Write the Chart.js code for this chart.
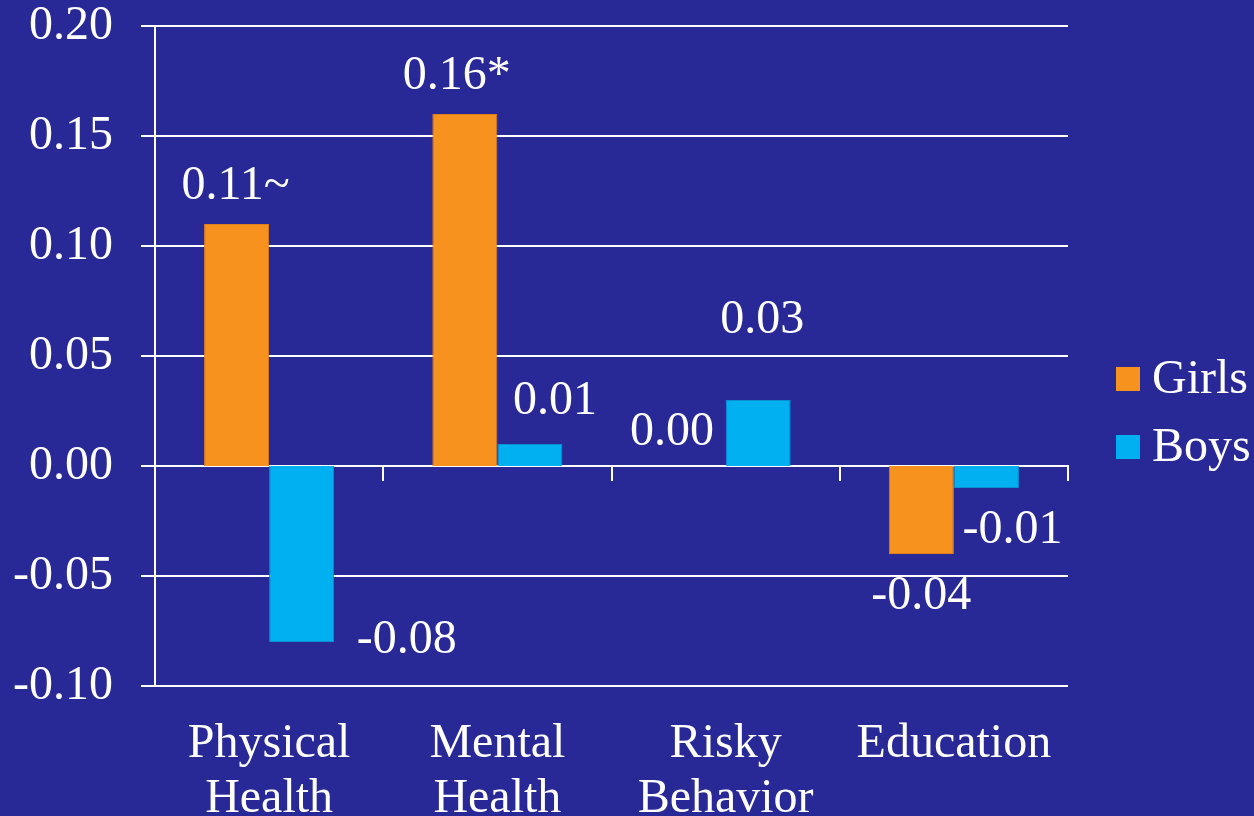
<!DOCTYPE html>
<html>
<head>
<meta charset="utf-8">
<script src="https://cdn.jsdelivr.net/npm/chart.js@4/dist/chart.umd.min.js"></script>
<style>
  html, body { margin: 0; padding: 0; background: #282896; }
  #wrap { width: 1254px; height: 816px; position: relative; }
</style>
</head>
<body>
<div id="wrap"><canvas id="chart"></canvas></div>
<script>
const categories = [["Physical", "Health"], ["Mental", "Health"], ["Risky", "Behavior"], ["Education"]];
const girls = [0.11, 0.16, 0.00, -0.04];
const boys = [-0.08, 0.01, 0.03, -0.01];
const girlsLabels = ["0.11~", "0.16*", "0.00", "-0.04"];
const boysLabels = ["-0.08", "0.01", "0.03", "-0.01"];
const yTicks = { min: -0.10, max: 0.20, step: 0.05 };

// where each value label sits relative to the end of its bar
const girlsOffsets = [[-1, -38], [-8, -38], [-21, -34], [0, 42]];
const boysOffsets = [[105, -2], [25, -43], [4, -80], [26, 42]];

const FONT = "'Liberation Serif', 'Times New Roman', serif";
const SIZE = 48;
const WHITE = "#ffffff";

const valueLabels = {
  id: "valueLabels",
  afterDatasetsDraw(chart) {
    const ctx = chart.ctx;
    ctx.save();
    ctx.font = SIZE + "px " + FONT;
    ctx.fillStyle = WHITE;
    ctx.textAlign = "center";
    ctx.textBaseline = "middle";
    [[girlsLabels, girlsOffsets], [boysLabels, boysOffsets]].forEach(([texts, offs], di) => {
      chart.getDatasetMeta(di).data.forEach((bar, i) => {
        ctx.fillText(texts[i], bar.x + offs[i][0], bar.y + offs[i][1]);
      });
    });
    ctx.restore();
  }
};

const sideLegend = {
  id: "sideLegend",
  afterDraw(chart) {
    const ctx = chart.ctx;
    const area = chart.chartArea;
    ctx.save();
    ctx.font = SIZE + "px " + FONT;
    ctx.textBaseline = "middle";
    ctx.textAlign = "left";
    chart.data.datasets.forEach((ds, i) => {
      const cy = area.top + 353 + i * 68;
      ctx.fillStyle = ds.backgroundColor;
      ctx.fillRect(area.right + 48, cy - 12, 24, 24);
      ctx.fillStyle = WHITE;
      ctx.fillText(ds.label, area.right + 84, cy + 1);
    });
    ctx.restore();
  }
};

new Chart(document.getElementById("chart"), {
  type: "bar",
  data: {
    labels: categories,
    datasets: [
      { label: "Girls", data: girls, backgroundColor: "#f7921e", borderColor: "#e0801a", borderWidth: 1 },
      { label: "Boys", data: boys, backgroundColor: "#00b0f0", borderColor: "#0a8fd0", borderWidth: 1 }
    ]
  },
  options: {
    responsive: true,
    maintainAspectRatio: false,
    animation: false,
    layout: { padding: { top: 26, right: 186, bottom: 0, left: 0 } },
    datasets: { bar: { barPercentage: 1, categoryPercentage: 0.57 } },
    plugins: { legend: { display: false }, tooltip: { enabled: false } },
    scales: {
      x: {
        position: { y: 0 },
        offset: true,
        border: { display: true, color: WHITE, width: 2 },
        grid: { drawOnChartArea: false, drawTicks: true, tickLength: 14, color: WHITE, lineWidth: 2, offset: true },
        ticks: { display: false },
        afterFit(scale) { scale.height = 0; }
      },
      x2: {
        type: "category",
        position: "bottom",
        labels: categories,
        offset: true,
        border: { display: false },
        grid: { display: false },
        ticks: { color: WHITE, font: { family: FONT, size: SIZE, lineHeight: 1.15 }, padding: 23, maxRotation: 0, autoSkip: false },
        afterFit(scale) { scale.height = 130; }
      },
      y: {
        min: yTicks.min,
        max: yTicks.max,
        border: { display: true, color: WHITE, width: 2 },
        grid: { color: WHITE, lineWidth: 2, tickLength: 14 },
        ticks: {
          stepSize: yTicks.step,
          color: WHITE,
          padding: 28,
          font: { family: FONT, size: SIZE },
          callback: v => v.toFixed(2)
        },
        afterFit(scale) {
          scale.width = 155;
          scale.paddingTop = 0;
          scale.paddingBottom = 0;
        }
      }
    }
  },
  plugins: [valueLabels, sideLegend]
});
</script>
</body>
</html>
